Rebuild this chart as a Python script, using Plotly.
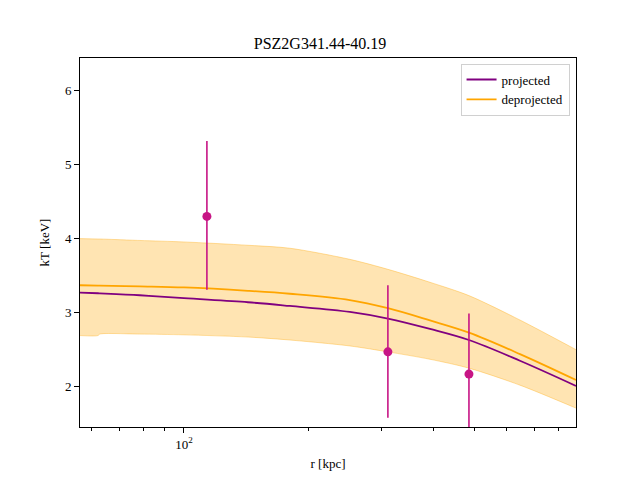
import plotly.graph_objects as go

# radii (kpc) at which curves are sampled
r_model = [56.2, 62.1, 62.7, 78.3, 100, 142.7, 180, 251, 310, 391.5, 486, 645, 880]
kt_proj = [3.27, 3.262, 3.261, 3.235, 3.195, 3.14, 3.09, 3.01, 2.92, 2.78, 2.63, 2.35, 2.01]
kt_deproj = [3.37, 3.366, 3.366, 3.355, 3.34, 3.295, 3.255, 3.17, 3.06, 2.895, 2.73, 2.44, 2.09]
kt_upper = [4.00, 3.995, 3.995, 3.975, 3.955, 3.91, 3.87, 3.72, 3.585, 3.41, 3.23, 2.90, 2.50]
kt_lower = [2.69, 2.69, 2.71, 2.71, 2.70, 2.67, 2.63, 2.55, 2.47, 2.37, 2.25, 2.02, 1.71]

# data points
r_obs = [113.6, 310, 486]
kt_obs = [4.30, 2.47, 2.17]
kt_err_hi = [5.32, 3.37, 2.99]
kt_err_lo = [3.31, 1.58, 1.35]

x_minor = [60, 70, 80, 90, 200, 300, 400, 500, 600, 700, 800]

band = "rgba(255,165,0,0.3)"
edge = "rgba(255,165,0,0.35)"

fig = go.Figure()
fig.add_trace(go.Scatter(x=r_model, y=kt_lower, mode="lines",
                         line=dict(color=edge, width=1, shape="spline", smoothing=0.8),
                         showlegend=False, hoverinfo="skip"))
fig.add_trace(go.Scatter(x=r_model, y=kt_upper, mode="lines",
                         line=dict(color=edge, width=1, shape="spline", smoothing=0.8),
                         fill="tonexty", fillcolor=band, showlegend=False, hoverinfo="skip"))
fig.add_trace(go.Scatter(x=r_model, y=kt_proj, mode="lines", name="projected",
                         line=dict(color="#800080", width=1.8, shape="spline")))
fig.add_trace(go.Scatter(x=r_model, y=kt_deproj, mode="lines", name="deprojected",
                         line=dict(color="#FFA500", width=1.8, shape="spline")))
fig.add_trace(go.Scatter(
    x=r_obs, y=kt_obs, mode="markers", showlegend=False,
    marker=dict(color="#C71585", size=9),
    error_y=dict(type="data", symmetric=False,
                 array=[h - v for h, v in zip(kt_err_hi, kt_obs)],
                 arrayminus=[v - l for v, l in zip(kt_obs, kt_err_lo)],
                 color="#C71585", thickness=1.6, width=0)))

font = "Liberation Serif, Times New Roman, serif"
fig.update_layout(
    template="none",
    width=640, height=480,
    margin=dict(l=80, r=64, t=58, b=53),
    paper_bgcolor="white", plot_bgcolor="white",
    font=dict(family=font, size=12, color="black"),
    title=dict(text="PSZ2G341.44-40.19", x=0.5, xanchor="center", y=1 - 43 / 480,
               yanchor="middle", font=dict(size=16, family=font, color="black")),
    legend=dict(x=0.987, y=0.985, xanchor="right", yanchor="top", traceorder="normal",
                bordercolor="#d0d0d0", borderwidth=1, bgcolor="rgba(255,255,255,0.8)",
                font=dict(size=13, family=font, color="black"), tracegroupgap=0,
                itemwidth=30),
    showlegend=True,
)
fig.update_xaxes(
    type="log", range=[1.7497, 2.9445],
    showgrid=False, zeroline=False,
    showline=True, linecolor="black", linewidth=1, mirror=True,
    ticks="outside", ticklen=5, tickcolor="black", tickwidth=1,
    tickfont=dict(color="black", size=13, family=font),
    tickvals=[100], ticktext=["10<sup>2</sup>"],
    minor=dict(tickvals=x_minor, ticks="outside", ticklen=3, tickcolor="black", showgrid=False),
    title=dict(text="r [kpc]", font=dict(size=13, family=font, color="black"), standoff=8),
)
fig.update_yaxes(
    range=[1.455, 6.44],
    showgrid=False, zeroline=False,
    showline=True, linecolor="black", linewidth=1, mirror=True,
    ticks="outside", ticklen=5, tickcolor="black", tickwidth=1,
    tickfont=dict(color="black", size=13, family=font),
    tickvals=[2, 3, 4, 5, 6],
    title=dict(text="kT [keV]", font=dict(size=13, family=font, color="black"), standoff=12),
)

fig.write_html("out.html")
